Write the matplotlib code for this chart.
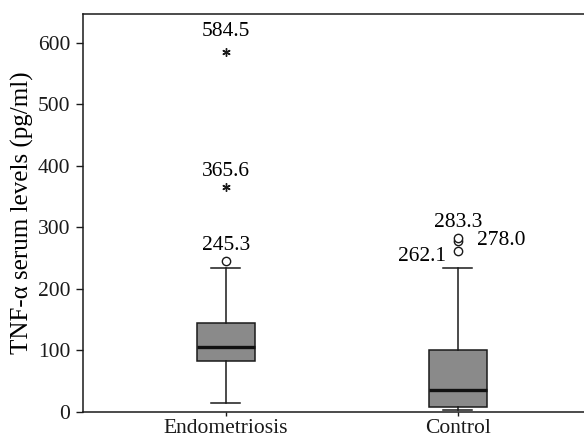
import matplotlib
matplotlib.use("Agg")
import matplotlib.pyplot as plt

plt.rcParams['font.family'] = ['Liberation Serif', 'DejaVu Serif']

groups = ['Endometriosis', 'Control']
q1 = [81.6, 7.0]
med = [105.0, 35.4]
q3 = [144.7, 100.0]
whislo = [14.0, 3.0]
whishi = [233.8, 233.8]

# mild outliers (circles) and extremes (stars)
out_pos = [1, 2, 2, 2]
out_val = [245.3, 262.1, 278.0, 283.3]
ext_pos = [1, 1]
ext_val = [365.6, 584.5]

stats = []
for i, g in enumerate(groups):
    stats.append(dict(label=g, q1=q1[i], med=med[i], q3=q3[i],
                      whislo=whislo[i], whishi=whishi[i], fliers=[]))

fig = plt.figure(figsize=(5.84, 4.37), dpi=100)
ax = fig.add_axes([0.142, 0.058, 0.858, 0.910])

ax.bxp(stats, positions=[1, 2], widths=0.248, patch_artist=True,
       boxprops=dict(facecolor='#8a8a8a', edgecolor='#1a1a1a', linewidth=1.1),
       medianprops=dict(color='#111111', linewidth=2.4),
       whiskerprops=dict(color='#1a1a1a', linewidth=1.1),
       capprops=dict(color='#1a1a1a', linewidth=1.1), capwidths=0.125)

ax.plot(out_pos, out_val, linestyle='none', marker='o', markersize=6,
        markerfacecolor='white', markeredgecolor='#1a1a1a', markeredgewidth=1.0)
ax.plot(ext_pos, ext_val, linestyle='none', marker=(6, 2, 0), markersize=6,
        color='#1a1a1a', markeredgewidth=1.0)

fs = 15.5
ax.text(1, 618, '584.5', ha='center', va='center', fontsize=fs)
ax.text(1, 390, '365.6', ha='center', va='center', fontsize=fs)
ax.text(1, 271, '245.3', ha='center', va='center', fontsize=fs)
ax.text(2, 308, '283.3', ha='center', va='center', fontsize=fs)
ax.text(2.08, 279, '278.0', ha='left', va='center', fontsize=fs)
ax.text(1.95, 252, '262.1', ha='right', va='center', fontsize=fs)

ax.set_xlim(0.384, 2.543)
ax.set_ylim(0, 647)
ax.set_yticks([0, 100, 200, 300, 400, 500, 600])
ax.set_xticks([1, 2])
ax.set_xticklabels(groups)
ax.tick_params(labelsize=fs, width=1.0, colors='#1a1a1a')
ax.tick_params(axis='y', length=5, pad=4)
ax.tick_params(axis='x', length=3, pad=2)
ax.set_ylabel('TNF-α serum levels (pg/ml)', fontsize=18, labelpad=3)

ax.spines['right'].set_visible(False)
for s in ['left', 'top', 'bottom']:
    ax.spines[s].set_linewidth(1.1)
    ax.spines[s].set_color('#1a1a1a')

fig.savefig('out.png', dpi=100)
